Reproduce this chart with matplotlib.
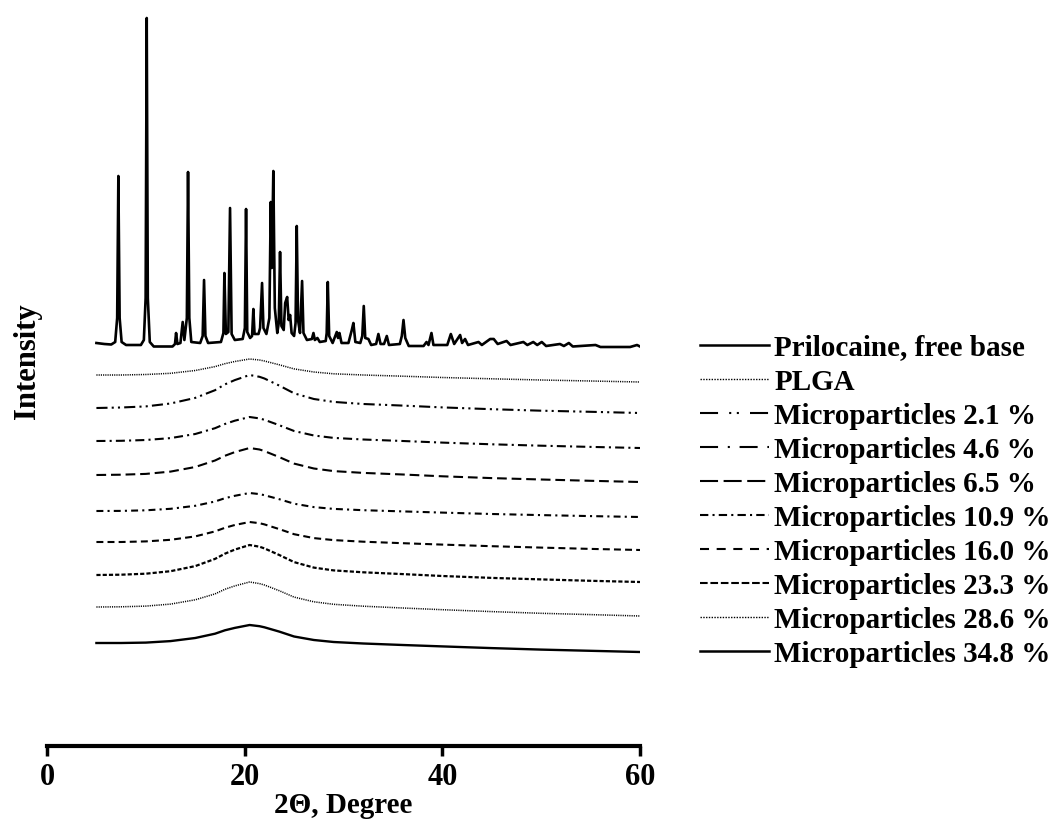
import matplotlib
matplotlib.use('Agg')
import matplotlib.pyplot as plt
from matplotlib.lines import Line2D

# prilocaine free base, trace: (2theta, intensity a.u.)
pril_trace = [
    (5.0, 5), (5.8, 4), (6.5, 3.5), (6.9, 6), (7.1, 30), (7.22, 172), (7.35, 30), (7.55, 6),
    (8.0, 3), (9.5, 3), (9.8, 8), (9.98, 50), (10.09, 330), (10.2, 50), (10.4, 6), (10.8, 1.5),
    (12.7, 1.5), (12.95, 4), (13.06, 15), (13.2, 4), (13.5, 5), (13.73, 26), (13.9, 8),
    (14.15, 30), (14.27, 176), (14.4, 30), (14.6, 6), (15.5, 5), (15.75, 12), (15.89, 68),
    (16.03, 12), (16.3, 5), (17.6, 6), (17.85, 15), (17.95, 75), (18.1, 14), (18.35, 16),
    (18.52, 140), (18.68, 14), (19.0, 8), (19.8, 9), (20.02, 20), (20.14, 139), (20.26, 16),
    (20.55, 10), (20.75, 12), (20.88, 39), (21.0, 14), (21.4, 14), (21.56, 20), (21.76, 65),
    (21.9, 20), (22.2, 14), (22.5, 30), (22.64, 146), (22.75, 80), (22.9, 177), (23.05, 40),
    (23.3, 15), (23.45, 25), (23.58, 96), (23.72, 22), (23.95, 18), (24.1, 45), (24.3, 51),
    (24.45, 28), (24.6, 33), (24.75, 15), (25.0, 12), (25.15, 25), (25.27, 122), (25.4, 28),
    (25.6, 15), (25.81, 67), (25.95, 15), (26.3, 8), (26.8, 9), (26.96, 15), (27.1, 8),
    (27.36, 10), (27.6, 6), (28.2, 7), (28.3, 15), (28.41, 66), (28.55, 12), (28.9, 5),
    (29.32, 16), (29.45, 10), (29.59, 15), (29.8, 5), (30.5, 5), (30.84, 18), (31.0, 25),
    (31.2, 6), (31.7, 5), (31.9, 12), (32.05, 42), (32.2, 10), (32.52, 9), (32.8, 3),
    (33.3, 4), (33.53, 14), (33.75, 4), (34.1, 4), (34.38, 12), (34.6, 3), (35.7, 4),
    (35.9, 12), (36.07, 28), (36.25, 10), (36.6, 2), (38.1, 2), (38.4, 6), (38.6, 3),
    (38.9, 15), (39.1, 3), (40.5, 3), (40.86, 14), (41.2, 4), (41.8, 13), (42.0, 5),
    (42.3, 9), (42.6, 3), (43.66, 6), (44.0, 3), (44.84, 9), (45.2, 9), (45.6, 4),
    (46.5, 7), (46.9, 3), (48.2, 6), (48.6, 3), (49.2, 6), (49.6, 3), (50.06, 6), (50.5, 2),
    (51.9, 4), (52.3, 2), (52.8, 5), (53.2, 1.5), (55.5, 3), (56.0, 1), (59.0, 1),
    (59.7, 3), (60.0, 1.5),
]
pril_x = [p[0] for p in pril_trace]
pril_y = [p[1] for p in pril_trace]

# amorphous samples share one 2theta grid
hump_x = [5, 7.5, 10, 12.5, 15, 17, 18, 19, 20.5, 21.5, 22, 23.5, 25, 27, 29, 32, 36, 40, 45, 50, 55, 60]
plga = [7, 7.0, 7.5, 8.7, 11.5, 15.4, 18.3, 20.5, 23, 22.0, 21.0, 17.2, 13.1, 10.0, 8.2, 7.0, 5.8, 4.5, 3.2, 2.0, 1.0, 0]
mp_2_1 = [5, 5.5, 6.6, 9.5, 15.1, 22.8, 28.6, 32.9, 38, 36.2, 34.5, 27.4, 19.7, 14.0, 11.1, 9.0, 7.4, 5.6, 3.8, 2.3, 1.2, 0]
mp_4_6 = [7, 7.2, 8.0, 9.9, 14.0, 19.8, 24.0, 27.3, 31, 29.6, 28.2, 22.8, 17.0, 12.5, 10.1, 8.5, 7.0, 5.4, 3.7, 2.3, 1.1, 0]
mp_6_5 = [7, 7.3, 8.1, 10.4, 15.0, 21.5, 26.2, 29.9, 34, 32.5, 30.9, 24.9, 18.4, 13.5, 10.9, 9.1, 7.5, 5.7, 3.9, 2.5, 1.2, 0]
mp_10_9 = [6, 6.1, 6.7, 8.2, 11.2, 15.5, 18.8, 21.2, 24, 22.9, 21.8, 17.8, 13.3, 9.9, 8.1, 6.8, 5.6, 4.4, 3.0, 1.9, 0.9, 0]
mp_16_0 = [8, 8.0, 8.6, 10.2, 13.6, 18.6, 22.2, 25.0, 28, 26.8, 25.6, 20.9, 15.8, 11.9, 9.9, 8.3, 6.8, 5.4, 3.8, 2.4, 1.1, 0]
mp_23_3 = [7, 7.3, 8.3, 10.8, 15.9, 23.1, 28.3, 32.4, 37, 35.3, 33.6, 27.0, 19.9, 14.4, 11.6, 9.7, 7.9, 6.0, 4.1, 2.6, 1.2, 0]
mp_28_6 = [9, 9.2, 9.9, 11.9, 16.2, 22.1, 26.7, 30.1, 34, 32.4, 31.0, 25.3, 18.9, 14.2, 11.7, 9.8, 8.0, 6.3, 4.4, 2.7, 1.4, 0]
mp_34_8 = [9, 9.0, 9.4, 10.9, 14.0, 18.3, 21.7, 24.1, 27, 25.8, 24.7, 20.4, 15.5, 12.0, 10.0, 8.5, 7.0, 5.6, 3.9, 2.4, 1.2, 0]

labels = ['Prilocaine, free base', 'PLGA', 'Microparticles 2.1 %', 'Microparticles 4.6 %',
          'Microparticles 6.5 %', 'Microparticles 10.9 %', 'Microparticles 16.0 %',
          'Microparticles 23.3 %', 'Microparticles 28.6 %', 'Microparticles 34.8 %']
humps = [plga, mp_2_1, mp_4_6, mp_6_5, mp_10_9, mp_16_0, mp_23_3, mp_28_6, mp_34_8]

# vertical stacking of the patterns
offsets = [398, 364, 333, 298, 264, 229, 196, 164, 130, 94]

# line styles (dashes in points), plot and legend versions
lws = [1.9, 1.1, 1.5, 1.5, 1.5, 1.5, 1.5, 1.6, 1.1, 1.7]
dash_plot = [None, (0.8, 0.8), (8, 3, 1.5, 3, 1.5, 3), (6.5, 3, 1.5, 3), (7, 3.5),
             (5, 3, 1.5, 3), (5, 3), (3, 1.5), (0.8, 0.8), None]
dash_leg = [None, (1, 1), (13, 8, 1.5, 4, 1.5, 8), (13, 7, 1.5, 7), (13, 4),
            (6, 3, 1.5, 3), (6.5, 5.5), (5.5, 2), (1, 1), None]

plt.rcParams['font.family'] = ['Liberation Serif', 'DejaVu Serif']
plt.rcParams['font.weight'] = 'bold'
plt.rcParams['lines.scale_dashes'] = False

fig = plt.figure(figsize=(10.62, 8.19), dpi=100)
ax = fig.add_axes([47 / 1062, 73 / 819, 593 / 1062, 736 / 819])

ax.plot(pril_x, [v + offsets[0] for v in pril_y], color='black', lw=lws[0],
        solid_joinstyle='round')
for i, h in enumerate(humps):
    line, = ax.plot(hump_x, [v + offsets[i + 1] for v in h], color='black', lw=lws[i + 1])
    if dash_plot[i + 1] is not None:
        line.set_dashes(dash_plot[i + 1])

handles = []
for i in range(len(labels)):
    hl = Line2D([], [], color='black', lw=1.5 if dash_leg[i] else 1.8)
    if dash_leg[i] is not None:
        hl.set_dashes(dash_leg[i])
        if dash_leg[i] == (1, 1):
            hl.set_linewidth(1.0)
    handles.append(hl)

fig.legend(handles, labels, loc='upper left', bbox_to_anchor=(700 / 1062, 1 - 334.5 / 819),
           frameon=False, handlelength=2.35, handletextpad=0.2, labelspacing=0.24,
           borderpad=0, borderaxespad=0, prop={'family': 'Liberation Serif',
                                               'weight': 'bold', 'size': 21})

ax.set_xlim(0, 60)
ax.set_ylim(0, 736)
ax.set_xticks([0, 20, 40, 60])
ax.set_yticks([])
for s in ['left', 'right', 'top']:
    ax.spines[s].set_visible(False)
ax.spines['bottom'].set_linewidth(3)
ax.tick_params(axis='x', direction='out', length=7, width=2.5, labelsize=22, pad=5)
for t in ax.get_xticklabels():
    t.set_fontweight('bold')

ax.set_xlabel('2\u0398, Degree', fontsize=21, fontweight='bold', labelpad=0)
ax.set_ylabel('Intensity', fontsize=22, fontweight='bold')
ax.yaxis.set_label_coords(-0.008, 0.523)

fig.savefig('out.png', dpi=100)
